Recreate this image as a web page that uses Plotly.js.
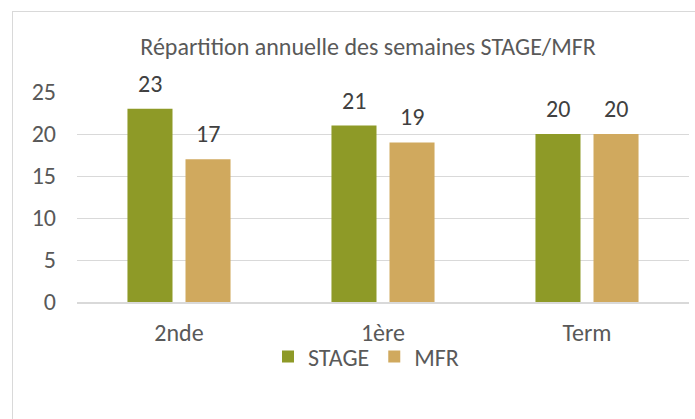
<!DOCTYPE html>
<html>
<head>
<meta charset="utf-8">
<script src="https://cdn.plot.ly/plotly-3.0.1.min.js"></script>
<style>
html,body{margin:0;padding:0;background:#fff;}
#chart{width:695px;height:419px;}
</style>
</head>
<body>
<div id="chart"></div>
<script>
const categories = ["2nde", "1ère", "Term"];
const stageValues = [23, 21, 20];
const mfrValues = [17, 19, 20];
const seriesNames = ["STAGE", "MFR"];
const yTicks = [0, 5, 10, 15, 20, 25];

const W = 695, H = 419;
const mL = 77, mR = 6, mT = 92, mB = 117;
const pw = W - mL - mR, ph = H - mT - mB;
const px = v => (v - mL) / pw;
const py = v => (H - mB - v) / ph;

const fontFam = "Carlito, Calibri, 'Open Sans', sans-serif";
const FS = 24;

const traces = [
  {type: "bar", name: seriesNames[0], x: categories, y: stageValues,
   marker: {color: "#8E9A27"}},
  {type: "bar", name: seriesNames[1], x: categories, y: mfrValues,
   marker: {color: "#D0A95E"}}
];

const annotations = [];
categories.forEach((c, i) => {
  annotations.push({x: c, y: stageValues[i], xref: "x", yref: "y", text: String(stageValues[i]),
    showarrow: false, xshift: -29, yshift: 9, yanchor: "bottom",
    font: {size: FS, color: "#404040", family: fontFam}});
  annotations.push({x: c, y: mfrValues[i], xref: "x", yref: "y", text: String(mfrValues[i]),
    showarrow: false, xshift: 29, yshift: 9, yanchor: "bottom",
    font: {size: FS, color: "#404040", family: fontFam}});
});

const layout = {
  width: W, height: H,
  margin: {l: mL, r: mR, t: mT, b: mB, pad: 0},
  paper_bgcolor: "#fff", plot_bgcolor: "#fff",
  font: {family: fontFam, color: "#595959", size: FS},
  title: {text: "Répartition annuelle des semaines STAGE/MFR", x: 368 / W, xanchor: "center",
          y: 1 - 47 / H, yanchor: "middle", font: {size: FS, color: "#595959", family: fontFam}},
  barmode: "group", bargap: 0.431, bargroupgap: 0.224,
  xaxis: {type: "category", showgrid: false, showline: true, linecolor: "#d9d9d9", linewidth: 2,
          ticks: "", tickfont: {size: FS, color: "#595959"}, ticklabelstandoff: 8, fixedrange: true},
  yaxis: {range: [0, 25], tickvals: yTicks, ticktext: yTicks.map(String), showgrid: true,
          gridcolor: "#d9d9d9", gridwidth: 1, zeroline: false, showline: false, ticks: "",
          tickfont: {size: FS, color: "#595959"}, ticklabelstandoff: 20, fixedrange: true},
  showlegend: true,
  legend: {orientation: "h", x: px(366), xanchor: "center", y: py(357), yanchor: "middle",
           bgcolor: "rgba(0,0,0,0)",
           font: {size: FS, color: "#595959"}, itemwidth: 30, traceorder: "normal"},
  annotations: annotations,
  shapes: [
    {type: "line", xref: "paper", yref: "paper", x0: px(12.5), x1: px(12.5), y0: py(11), y1: py(H + 5),
     line: {color: "#d9d9d9", width: 1}},
    {type: "line", xref: "paper", yref: "paper", x0: px(12), x1: px(W + 5), y0: py(11.5), y1: py(11.5),
     line: {color: "#d9d9d9", width: 1}}
  ]
};

Plotly.newPlot("chart", traces, layout, {displayModeBar: false, staticPlot: true});
</script>
</body>
</html>
